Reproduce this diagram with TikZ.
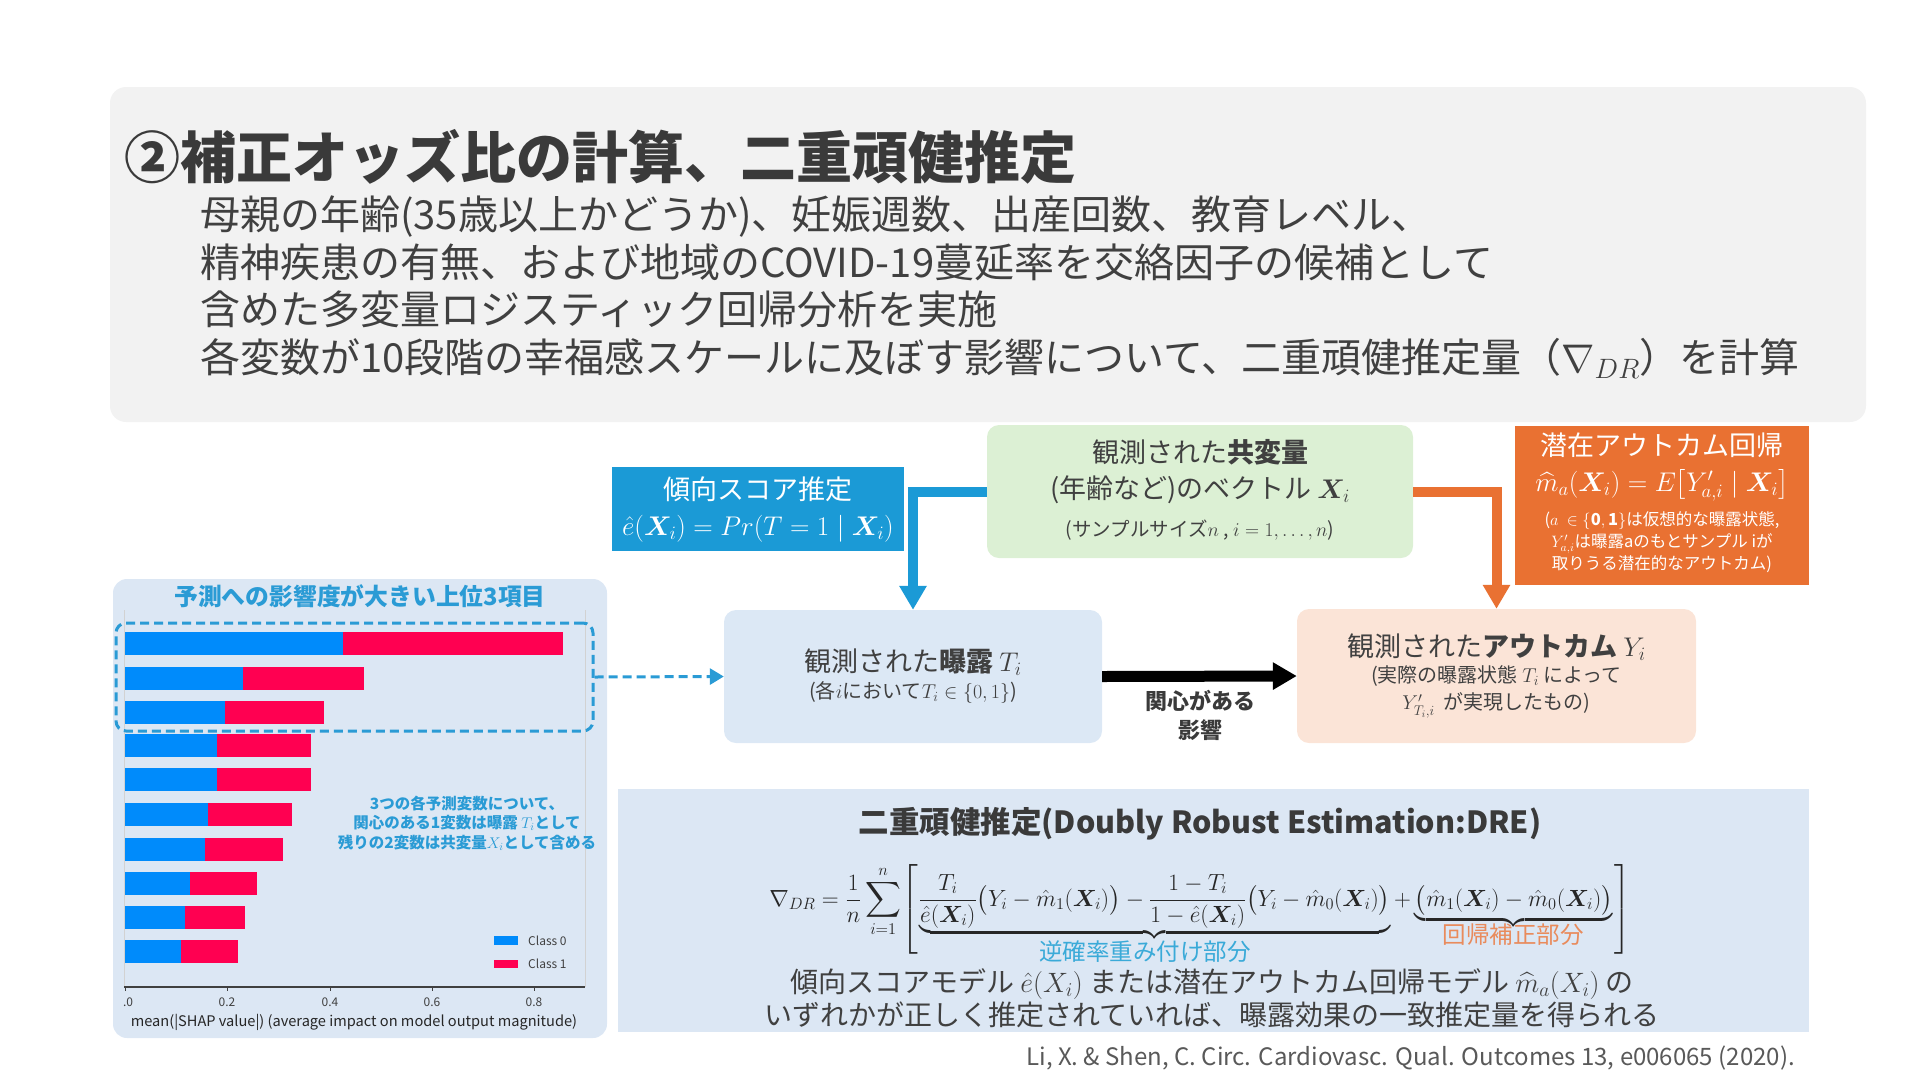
\RequirePackage{fix-cm}
\documentclass[tikz,border=0pt]{standalone}
\usepackage{amsmath,bm}
\usepackage{fontspec}
\setmainfont{Noto Sans CJK JP}
\usetikzlibrary{arrows.meta}
\definecolor{topgray}{HTML}{F2F2F2}
\definecolor{titlegray}{HTML}{3A3A3A}
\definecolor{txtgray}{HTML}{404040}
\definecolor{propblue}{HTML}{1B9AD6}
\definecolor{covgreen}{HTML}{DCF0D4}
\definecolor{potorange}{HTML}{E97132}
\definecolor{expoblue}{HTML}{DCE8F5}
\definecolor{outpeach}{HTML}{FBE4D7}
\definecolor{panelblue}{HTML}{DCE7F4}
\definecolor{accblue}{HTML}{2A9BD5}
\definecolor{shapblue}{HTML}{008BFB}
\definecolor{shapred}{HTML}{FF0051}
\definecolor{irwblue}{HTML}{3AAAD8}
\definecolor{regorange}{HTML}{E98B5C}
\definecolor{citegray}{HTML}{595959}
\newcommand{\drelbrk}{\mathopen{\raisebox{-9pt}{$\displaystyle\left[\rule{0pt}{52pt}\right.$}}}
\newcommand{\drerbrk}{\mathclose{\raisebox{-9pt}{$\displaystyle\left.\rule{0pt}{52pt}\right]$}}}
\begin{document}
\begin{tikzpicture}[x=1pt,y=-1pt,
  flatbox/.style={inner sep=0pt, align=center, text=txtgray},
  roundbox/.style={flatbox, rounded corners=12pt},
  fatarrow/.style={line width=10pt, -{Triangle[width=26pt,length=24pt]}},
  plotlbl/.style={font=\fontsize{12}{12}\selectfont, text=txtgray, inner sep=0pt}]
\useasboundingbox (0,0) rectangle (1920,1080);

% ---- top box
\node[roundbox, fill=topgray, minimum width=1756pt, minimum height=335pt, rounded corners=16pt] (topbox) at (988,254.5) {};
\node[anchor=west, inner sep=0pt, text=titlegray, font=\fontsize{56}{60}\selectfont\bfseries] (title) at (124,157) {②補正オッズ比の計算、二重頑健推定};
\node[anchor=north west, inner sep=0pt, align=left, text=txtgray, font=\fontsize{40}{47.5}\selectfont] (body) at (200,196) {母親の年齢(35歳以上かどうか)、妊娠週数、出産回数、教育レベル、\\精神疾患の有無、および地域のCOVID-19蔓延率を交絡因子の候補として\\含めた多変量ロジスティック回帰分析を実施\\各変数が10段階の幸福感スケールに及ぼす影響について、二重頑健推定量（$\nabla_{DR}$）を計算};

% ---- diagram boxes
\node[flatbox, fill=propblue, text=white, minimum width=292pt, minimum height=84pt, font=\fontsize{27}{36}\selectfont] (prop) at (758,509) {傾向スコア推定\\$\hat e(\bm X_i) = Pr(T=1\mid \bm X_i)$};
\node[roundbox, fill=covgreen, minimum width=426pt, minimum height=133pt] (cov) at (1200,491.5) {};
\node[flatbox, font=\fontsize{27}{36}\selectfont] (covtxt) at (1200,472) {観測された\textbf{共変量}\\(年齢など)のベクトル $\bm X_i$};
\node[flatbox, font=\fontsize{19.5}{22}\selectfont] (covsub) at (1200,530) {(サンプルサイズ$n$ , $i=1,\dots,n$)};
\node[flatbox, fill=potorange, text=white, minimum width=294pt, minimum height=159pt] (pot) at (1662,505.5) {};
\node[flatbox, text=white, font=\fontsize{27}{36}\selectfont] (pottxt) at (1662,467) {潜在アウトカム回帰\\$\widehat{m}_a(\bm X_i) = E\bigl[Y'_{a,i}\mid \bm X_i\bigr]$};
\node[flatbox, text=white, font=\fontsize{16.5}{22}\selectfont] (potsub) at (1662,542) {($a\ \in\{\mathbf{0,1}\}$は仮想的な曝露状態,\\$Y'_{a,i}$は曝露aのもとサンプル iが\\取りうる潜在的なアウトカム)};
\node[roundbox, fill=expoblue, minimum width=378pt, minimum height=133pt] (expo) at (913,676.5) {};
\node[flatbox, font=\fontsize{27}{31}\selectfont] (expotxt) at (913,662) {観測された\textbf{曝露} $T_i$};
\node[flatbox, font=\fontsize{20}{24}\selectfont] (exposub) at (913,693) {(各$i$において$T_i\in\{0,1\}$)};
\node[roundbox, fill=outpeach, minimum width=399pt, minimum height=134pt] (out) at (1496.5,676) {};
\node[flatbox, font=\fontsize{27}{31}\selectfont] (outtxt) at (1496.5,647) {観測された\textbf{アウトカム} $Y_i$};
\node[flatbox, font=\fontsize{20}{27}\selectfont] (outsub) at (1496.5,692) {(実際の曝露状態 $T_i$ によって\\$Y'_{T_i,i}$\ \ が実現したもの)};

% ---- connectors
\draw[fatarrow, propblue] (cov.west) -| (expo.north);
\draw[fatarrow, potorange] (cov.east) -| (out.north);
\draw[line width=11pt, black, -{Triangle[width=26pt,length=24pt]}] (expo.east) -- (out.west);
\node[flatbox, text=titlegray, font=\fontsize{22}{29}\selectfont\bfseries] (efflbl) at (1200,715) {関心がある\\影響};

% ---- left panel (SHAP chart)
\node[roundbox, fill=panelblue, minimum width=494pt, minimum height=459pt, rounded corners=14pt] (panel) at (360,808.5) {};
\node[flatbox, text=accblue, font=\fontsize{23.8}{28}\selectfont\bfseries] (paneltitle) at (360,596) {予測への影響度が大きい上位3項目};
\draw[gray!35, line width=0.8pt] (124,610) -- (124,987);
\draw[gray!35, line width=0.8pt] (585,610) -- (585,987);
\foreach \yc/\bb/\rr in {643.5/343/563, 678/243/364, 712/225/324, 745.5/217/311, 779.5/217/311, 814.5/208/292, 849.5/205/283, 883.5/190/257, 917.5/185/245, 951.5/181/238}{
  \fill[shapblue] (124.5,\yc-11.5) rectangle (\bb,\yc+11.5);
  \fill[shapred] (\bb,\yc-11.5) rectangle (\rr,\yc+11.5);
}
\draw[black!75, line width=1.2pt] (124,987) -- (585,987);
\foreach \xx in {125,227,330,432,534}{\draw[black!75, line width=1pt] (\xx,987) -- (\xx,991);}
\node[plotlbl] (t0) at (128,1002) {.0};
\node[plotlbl] (t2) at (227,1002) {0.2};
\node[plotlbl] (t4) at (330,1002) {0.4};
\node[plotlbl] (t6) at (432,1002) {0.6};
\node[plotlbl] (t8) at (534,1002) {0.8};
\node[plotlbl, font=\fontsize{14.6}{15}\selectfont, text=black!85] (xlabel) at (354,1022) {mean(|SHAP value|) (average impact on model output magnitude)};
\fill[shapblue] (494,936) rectangle (518,945);
\fill[shapred] (494,960) rectangle (518,968);
\node[plotlbl, anchor=west] (leg0) at (528,940.5) {Class 0};
\node[plotlbl, anchor=west] (leg1) at (528,964) {Class 1};
\node[flatbox, text=accblue, font=\fontsize{15.5}{19.5}\selectfont\bfseries] (annot) at (467,823) {3つの各予測変数について、\\関心のある1変数は曝露 $T_i$として\\残りの2変数は共変量$X_i$として含める};
\node[draw=accblue, line width=3pt, dash pattern=on 9pt off 5pt, rounded corners=10pt, inner sep=0pt, minimum width=477pt, minimum height=108pt] (dashbox) at (354.5,677) {};
\draw[accblue, line width=3pt, dash pattern=on 9pt off 5pt, -{Triangle[width=16pt,length=14pt]}] (dashbox.east) -- (expo.west);

% ---- DRE box
\node[flatbox, fill=panelblue, minimum width=1191pt, minimum height=243pt] (dre) at (1213.5,910.5) {};
\node[flatbox, text=titlegray, font=\fontsize{30.5}{32}\selectfont\bfseries] (dretitle) at (1200,824) {二重頑健推定(Doubly Robust Estimation:DRE)};
\node[flatbox, anchor=base, text=black!85, font=\fontsize{23.4}{28}\selectfont] (formula) at (1200,906) {$\displaystyle \nabla_{DR}=\frac{1}{n}\sum_{i=1}^{n}\drelbrk\underbrace{\frac{T_i}{\hat e(\bm X_i)}\bigl(Y_i-\hat m_1(\bm X_i)\bigr)-\frac{1-T_i}{1-\hat e(\bm X_i)}\bigl(Y_i-\hat m_0(\bm X_i)\bigr)}_{}+\underbrace{\bigl(\hat m_1(\bm X_i)-\hat m_0(\bm X_i)\bigr)}_{}\drerbrk$};
\node[flatbox, text=irwblue, font=\fontsize{23.5}{24}\selectfont] (irwlbl) at (1145,952) {逆確率重み付け部分};
\node[flatbox, text=regorange, font=\fontsize{23.5}{24}\selectfont] (reglbl) at (1513,935) {回帰補正部分};
\node[flatbox, font=\fontsize{28}{33}\selectfont] (drenote) at (1212,998) {傾向スコアモデル $\hat e(X_i)$ または潜在アウトカム回帰モデル $\widehat{m}_a(X_i)$ の\\いずれかが正しく推定されていれば、曝露効果の一致推定量を得られる};
\node[anchor=east, inner sep=0pt, text=citegray, font=\fontsize{24}{26}\selectfont] (cite) at (1795,1058) {Li, X. \& Shen, C. Circ. Cardiovasc. Qual. Outcomes 13, e006065 (2020).};
\end{tikzpicture}
\end{document}
